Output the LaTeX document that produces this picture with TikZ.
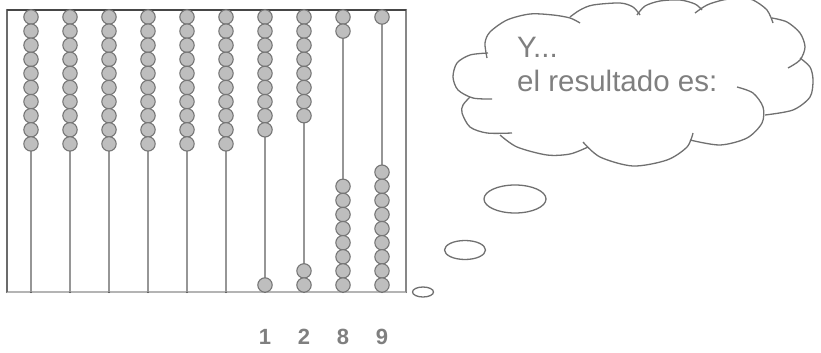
\documentclass[tikz,border=0pt]{standalone}
\usepackage{fontspec}
\setmainfont{Liberation Sans}[BoldFont={Liberation Sans Bold}]
\usetikzlibrary{positioning}

\definecolor{beadfill}{RGB}{190,190,190}
\definecolor{beadline}{RGB}{118,118,118}
\definecolor{rodgray}{RGB}{150,150,150}
\definecolor{bardark}{RGB}{70,70,70}
\definecolor{barlight}{RGB}{180,180,180}
\definecolor{cloudline}{RGB}{112,112,112}
\definecolor{txtgray}{RGB}{127,127,127}

\tikzset{
  bead/.style={circle, draw=beadline, fill=beadfill, line width=1.1pt, inner sep=0pt, minimum size=14.4pt},
  rod/.style={draw=rodgray, line width=1.6pt},
  dot/.style={circle, fill=bardark, inner sep=0pt, minimum size=2.4pt},
  puff/.style={draw=cloudline, line width=1.3pt},
  digit/.style={text=txtgray, font=\bfseries\fontsize{22}{26}\selectfont, inner sep=0pt},
  say/.style={text=txtgray, font=\fontsize{29.5}{34}\selectfont, inner sep=0pt, anchor=base west},
}

\begin{document}
\begin{tikzpicture}[x=1pt, y=-1pt]
    \useasboundingbox (0,0) rectangle (821,353);

    % frame of the abacus
    \node[dot] (tl) at (7,10) {};
    \node[dot] (tr) at (406,10) {};
    \node[dot] (bl) at (7,292) {};
    \node[dot] (br) at (406,292) {};

    \draw[barlight, line width=2.4pt] (bl.center) -- (br.center);
    \draw[bardark!80, line width=1.4pt] (tl.center) -- (bl.center);
    \draw[rodgray!90!black, line width=1.4pt] (tr.center) -- (br.center);
    \draw[bardark, line width=1.5pt] (tl.center) -- (tr.center);

    % rods and beads
    \foreach \i/\nup [evaluate=\i as \px using 31+39*(\i-1)] in
        {1/10,2/10,3/10,4/10,5/10,6/10,7/9,8/8,9/2,10/1} {
        \node[dot] (t\i) at (\px,10) {};
        \node[dot] (u\i) at (\px,292) {};
        \draw[rod] (t\i.center) -- (u\i.center);
        \foreach \k in {1,...,10} {
            \ifnum\k>\nup
                \pgfmathsetmacro\py{285-14.1*(10-\k)}
            \else
                \pgfmathsetmacro\py{17+14.1*(\k-1)}
            \fi
            \node[bead] (b\i-\k) at (\px,\py) {};
        }
    }

    \node[digit, below=36pt of u7] (n7) {1};
    \node[digit, below=36pt of u8] (n8) {2};
    \node[digit, below=36pt of u9] (n9) {8};
    \node[digit, below=36pt of u10] (n10) {9};

    % thought bubbles
    \draw[puff] (423,292) ellipse [x radius=10.5, y radius=5];
    \draw[puff] (465,250) ellipse [x radius=20.5, y radius=9.5];
    \draw[puff] (515,199) ellipse [x radius=31, y radius=14];

    % the cloud, one arc per puff
    \draw[puff] plot[smooth] coordinates {(580,23) (570,18) (553,15) (530,14) (507,20) (490,32) (485,43) (487,58)};
    \draw[puff] plot[smooth] coordinates {(488,53) (470,55) (457,63) (453,77) (458,90) (473,98) (492,99)};
    \draw[puff] plot[smooth] coordinates {(470,97) (463,105) (462,113) (470,127) (487,133) (512,133)};
    \draw[puff] plot[smooth] coordinates {(500,135) (517,147) (547,155) (570,154) (588,147)};
    \draw[puff] plot[smooth] coordinates {(583,142) (600,157) (633,166) (667,160) (687,147) (693,133)};
    \draw[puff] plot[smooth] coordinates {(690,140) (720,145) (747,138) (762,123) (763,107) (753,93) (737,87)};
    \draw[puff] plot[smooth] coordinates {(765,115) (793,110) (810,97) (813,80) (810,67) (800,58)};
    \draw[puff] plot[smooth] coordinates {(772,18) (787,22) (800,33) (805,47) (800,60) (788,68)};
    \draw[puff] plot[smooth] coordinates {(695,13) (707,5) (723,0) (740,-2) (753,0) (767,10) (773,23)};
    \draw[puff] plot[smooth] coordinates {(637,15) (645,6) (660,1) (680,0) (695,4) (702,10)};
    \draw[puff] plot[smooth] coordinates {(570,17) (580,10) (593,5) (620,3) (633,7) (640,15)};

    \node[say] (y) at (517,57) {Y...};
    \node[say] (res) at (517,91) {el resultado es:};
\end{tikzpicture}
\end{document}
